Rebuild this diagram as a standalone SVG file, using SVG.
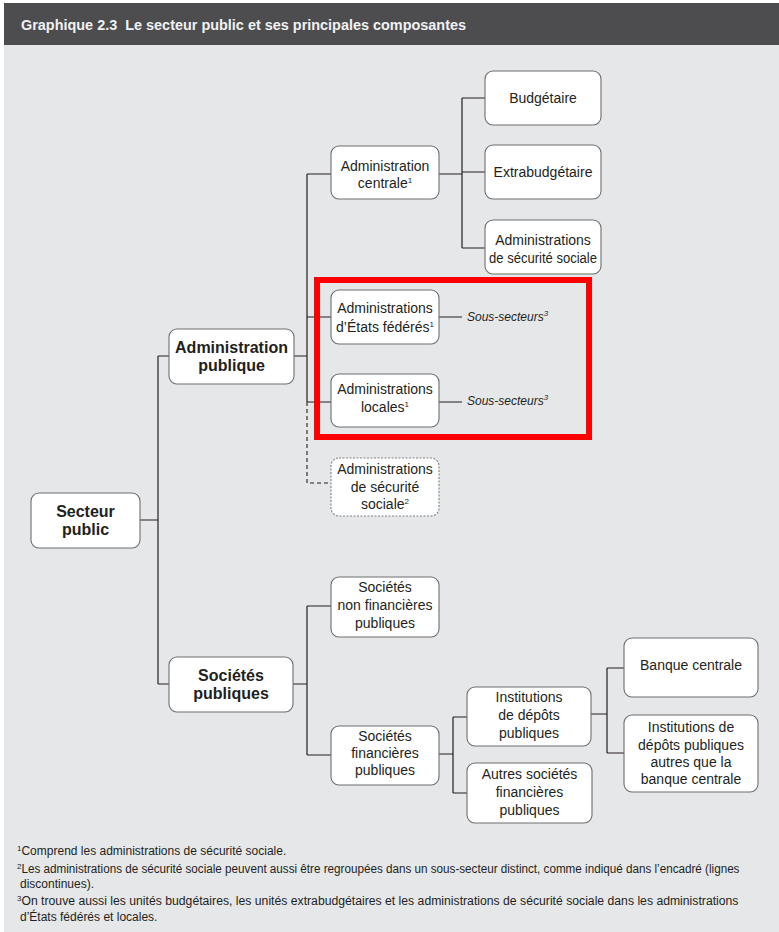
<svg xmlns="http://www.w3.org/2000/svg" width="779" height="932" viewBox="0 0 779 932">
<style>
.box{fill:#ffffff;stroke:#6d6e71;stroke-width:1.1}
.dbox{fill:#ffffff;stroke:#808285;stroke-width:1.1;stroke-dasharray:2 1.5}
.t{font-family:"Liberation Sans","Open Sans",sans-serif;font-size:14px;fill:#231f20;text-anchor:middle}
.b{font-family:"Liberation Sans","Open Sans",sans-serif;font-size:16px;font-weight:bold;fill:#231f20;text-anchor:middle}
.it{font-family:"Liberation Sans","Open Sans",sans-serif;font-size:12px;font-style:italic;fill:#231f20}
.fn{font-family:"Liberation Sans","Open Sans",sans-serif;font-size:12px;fill:#231f20}
.sup{font-size:8px}
.ln{fill:none;stroke:#231f20;stroke-width:1.2}
.dl{fill:none;stroke:#231f20;stroke-width:1.1;stroke-dasharray:4 3}
</style>
<rect x="0" y="0" width="779" height="932" fill="#ffffff"/>
<rect x="4" y="45" width="775" height="887" fill="#e6e7e8"/>
<rect x="4" y="3" width="775" height="42" fill="#4d4d4f"/>
<text x="21" y="30" font-family="Liberation Sans, Open Sans, sans-serif" font-size="14" font-weight="bold" fill="#f1f1f2" textLength="445" lengthAdjust="spacingAndGlyphs">Graphique 2.3&#160; Le secteur public et ses principales composantes</text>

<g id="connectors">
<path class="ln" d="M140 520 H158 M158 356 V684 M158 356 H169 M158 684 H169"/>
<path class="ln" d="M294 356 H307 M307 174 V402 M307 174 H331 M307 317 H331 M307 402 H331"/>
<path class="dl" d="M307 402 V483 H331"/>
<path class="ln" d="M439 174 H462 M462 98 V248 M462 98 H485 M462 172 H485 M462 248 H485"/>
<path class="ln" d="M439 317 H462 M439 402 H462"/>
<path class="ln" d="M293 684 H307 M307 606 V755 M307 606 H331 M307 755 H331"/>
<path class="ln" d="M439 754 H453 M453 717 V793 M453 717 H467 M453 793 H467"/>
<path class="ln" d="M591 714 H607 M607 668 V753 M607 668 H624 M607 753 H624"/>
</g>

<g id="secteur-public">
<rect class="box" x="31" y="493" width="109" height="55" rx="8"/>
<text class="b" x="85.5" y="517">Secteur</text>
<text class="b" x="85.5" y="535">public</text>
</g>
<g id="administration-publique">
<rect class="box" x="169" y="329" width="125" height="55" rx="8"/>
<text class="b" x="231.5" y="353">Administration</text>
<text class="b" x="231.5" y="371">publique</text>
</g>
<g id="societes-publiques">
<rect class="box" x="169" y="657" width="124" height="55" rx="8"/>
<text class="b" x="231" y="681">Sociétés</text>
<text class="b" x="231" y="699">publiques</text>
</g>
<g id="administration-centrale">
<rect class="box" x="331" y="146" width="108" height="53" rx="8"/>
<text class="t" x="385" y="171">Administration</text>
<text class="t" x="385" y="188">centrale<tspan class="sup" dy="-5">1</tspan></text>
</g>
<g id="budgetaire">
<rect class="box" x="485" y="71" width="116" height="54" rx="8"/>
<text class="t" x="543" y="103">Budgétaire</text>
</g>
<g id="extrabudgetaire">
<rect class="box" x="485" y="145" width="116" height="54" rx="8"/>
<text class="t" x="543" y="177">Extrabudgétaire</text>
</g>
<g id="adm-securite-sociale-centrale">
<rect class="box" x="485" y="220" width="116" height="54" rx="8"/>
<text class="t" x="543" y="245">Administrations</text>
<text class="t" x="543" y="263" textLength="108" lengthAdjust="spacingAndGlyphs">de sécurité sociale</text>
</g>
<g id="adm-etats-federes">
<rect class="box" x="331" y="290" width="108" height="54" rx="8"/>
<text class="t" x="385" y="313">Administrations</text>
<text class="t" x="385" y="332">d’États fédérés<tspan class="sup" dy="-5">1</tspan></text>
<text class="it" x="467" y="321">Sous-secteurs<tspan class="sup" dy="-5">3</tspan></text>
</g>
<g id="adm-locales">
<rect class="box" x="331" y="374" width="108" height="53" rx="8"/>
<text class="t" x="385" y="394">Administrations</text>
<text class="t" x="385" y="412">locales<tspan class="sup" dy="-5">1</tspan></text>
<text class="it" x="467" y="405">Sous-secteurs<tspan class="sup" dy="-5">3</tspan></text>
</g>
<g id="highlight">
<rect x="317" y="280" width="272" height="157" fill="none" stroke="#ff0000" stroke-width="6"/>
</g>
<g id="adm-securite-sociale">
<rect class="dbox" x="331" y="458" width="108" height="58" rx="8"/>
<text class="t" x="385" y="474">Administrations</text>
<text class="t" x="385" y="492">de sécurité</text>
<text class="t" x="385" y="509">sociale<tspan class="sup" dy="-5">2</tspan></text>
</g>
<g id="societes-non-financieres">
<rect class="box" x="331" y="577" width="108" height="60" rx="8"/>
<text class="t" x="385" y="592">Sociétés</text>
<text class="t" x="385" y="610">non financières</text>
<text class="t" x="385" y="628">publiques</text>
</g>
<g id="societes-financieres">
<rect class="box" x="331" y="726" width="108" height="59" rx="8"/>
<text class="t" x="385" y="741">Sociétés</text>
<text class="t" x="385" y="758">financières</text>
<text class="t" x="385" y="775">publiques</text>
</g>
<g id="institutions-depots">
<rect class="box" x="467" y="687" width="124" height="59" rx="8"/>
<text class="t" x="529" y="702">Institutions</text>
<text class="t" x="529" y="720">de dépôts</text>
<text class="t" x="529" y="738">publiques</text>
</g>
<g id="autres-societes-financieres">
<rect class="box" x="467" y="763" width="125" height="60" rx="8"/>
<text class="t" x="529.5" y="779">Autres sociétés</text>
<text class="t" x="529.5" y="797">financières</text>
<text class="t" x="529.5" y="815">publiques</text>
</g>
<g id="banque-centrale">
<rect class="box" x="624" y="638" width="134" height="59" rx="8"/>
<text class="t" x="691" y="670">Banque centrale</text>
</g>
<g id="institutions-autres">
<rect class="box" x="624" y="715" width="134" height="77" rx="8"/>
<text class="t" x="691" y="732">Institutions de</text>
<text class="t" x="691" y="750">dépôts publiques</text>
<text class="t" x="691" y="767">autres que la</text>
<text class="t" x="691" y="784">banque centrale</text>
</g>

<g id="footnotes">
<text class="fn" x="17" y="855"><tspan class="sup" dy="-4">1</tspan><tspan dy="4">Comprend les administrations de sécurité sociale.</tspan></text>
<text class="fn" x="17" y="873"><tspan class="sup" dy="-4">2</tspan><tspan dy="4" textLength="718" lengthAdjust="spacingAndGlyphs">Les administrations de sécurité sociale peuvent aussi être regroupées dans un sous-secteur distinct, comme indiqué dans l’encadré (lignes</tspan></text>
<text class="fn" x="20" y="888">discontinues).</text>
<text class="fn" x="17" y="905"><tspan class="sup" dy="-4">3</tspan><tspan dy="4" textLength="717" lengthAdjust="spacingAndGlyphs">On trouve aussi les unités budgétaires, les unités extrabudgétaires et les administrations de sécurité sociale dans les administrations</tspan></text>
<text class="fn" x="20" y="921">d’États fédérés et locales.</text>
</g>
</svg>
